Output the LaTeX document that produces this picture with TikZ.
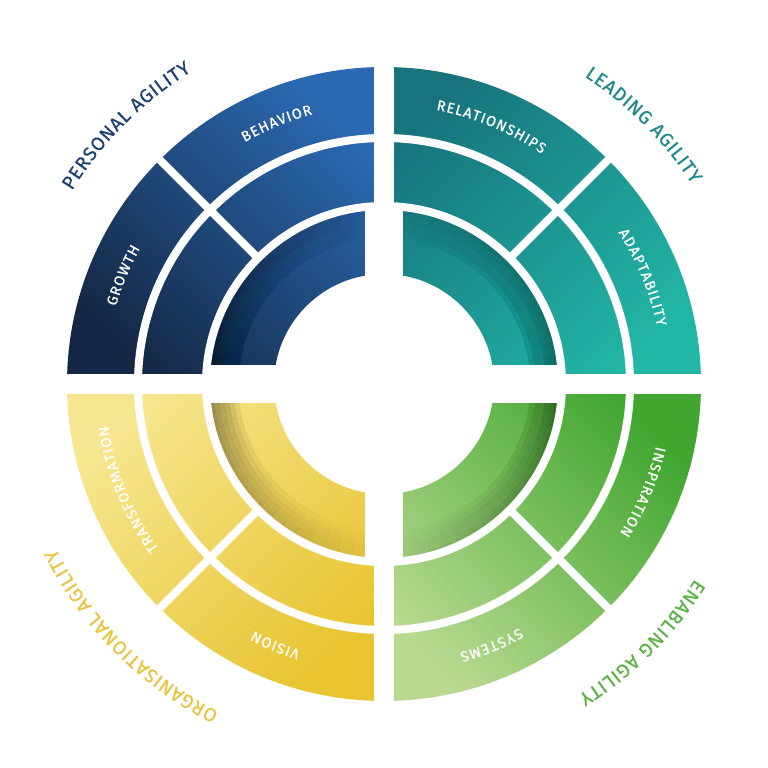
\documentclass[tikz,border=0pt]{standalone}
\usepackage{fontspec}
\usetikzlibrary{decorations.text,fadings}
\newfontfamily\agilityfont{Fira Sans}[FakeBold=0.6]
\definecolor{navydark}{HTML}{142845}
\definecolor{navylight}{HTML}{2B6AB3}
\definecolor{tealdark}{HTML}{17747E}
\definecolor{teallight}{HTML}{22B6A6}
\definecolor{greendark}{HTML}{40A630}
\definecolor{greenlight}{HTML}{B8D98F}
\definecolor{yellowlight}{HTML}{F6E68F}
\definecolor{yellowdark}{HTML}{E8C430}
\definecolor{personaltxt}{HTML}{1D4170}
\definecolor{leadingtxt}{HTML}{1E8A8C}
\definecolor{enablingtxt}{HTML}{5DB347}
\definecolor{orgtxt}{HTML}{E9C53F}
\newcommand\titlefmt{\agilityfont\fontsize{19}{21}\selectfont\kern0.8pt}
\newcommand\labelfmt{\agilityfont\fontsize{14.5}{16}\selectfont\kern1.1pt}
\pgfdeclareradialshading{ringshade}{\pgfpointorigin}{color(0bp)=(transparent!100); color(20.5bp)=(transparent!100); color(24.7bp)=(transparent!35); color(50bp)=(transparent!35)}
\pgfdeclarefading{ringedge}{\pgfuseshading{ringshade}}

\begin{document}
\begin{tikzpicture}[x=1pt,y=1pt,
    gap/.style={white,line width=#1},
    segtext/.style={decorate,decoration={text along path,text align=center,text color=white,text={|\labelfmt|#1}}},
    ringtitle/.style 2 args={decorate,decoration={text along path,text align=center,text color=#1,text={|\titlefmt|#2}}}]
    \useasboundingbox[fill=white] (-384,-384) rectangle (384,384);
    \shade[top color=tealdark,bottom color=teallight,shading angle=45] (0:317) arc[start angle=0,end angle=90,radius=317] -- (90:110) arc[start angle=90,end angle=0,radius=110] -- cycle;
    \shade[top color=navylight,bottom color=navydark,shading angle=-45] (90:317) arc[start angle=90,end angle=180,radius=317] -- (180:110) arc[start angle=180,end angle=90,radius=110] -- cycle;
    \shade[top color=yellowlight,bottom color=yellowdark,shading angle=45] (180:317) arc[start angle=180,end angle=270,radius=317] -- (270:110) arc[start angle=270,end angle=180,radius=110] -- cycle;
    \shade[top color=greendark,bottom color=greenlight,shading angle=-45] (270:317) arc[start angle=270,end angle=360,radius=317] -- (360:110) arc[start angle=360,end angle=270,radius=110] -- cycle;
    \foreach \a/\s in {0/1,0/-1,180/-1,180/1}
      \foreach \j in {5,10,...,90}{
        \begin{scope}
          \clip (0,0) -- (\a:180) arc[start angle=\a,end angle=\a+\s*\j,radius=180] -- cycle;
          \fill[black,opacity=0.036,path fading=ringedge] (0,0) circle[radius=174];
        \end{scope}
      }
    \draw[gap=8] (0,0) circle[radius=178];
    \draw[gap=8] (0,0) circle[radius=246];
    \draw[gap=20] (-330,0) -- (330,0);
    \draw[gap=20] (0,-330) -- (0,330);
    \draw[gap=38] (-178,0) -- (178,0);
    \draw[gap=38] (0,-178) -- (0,178);
    \foreach \a in {45,135,225,315}
      \draw[gap=8] (\a:176) -- (\a:330);
    \path[segtext=RELATIONSHIPS] (90:279) arc[start angle=90,end angle=45,radius=279];
    \path[segtext=ADAPTABILITY] (45:279) arc[start angle=45,end angle=0,radius=279];
    \path[segtext=INSPIRATION] (0:279) arc[start angle=0,end angle=-45,radius=279];
    \path[segtext=SYSTEMS] (-45:279) arc[start angle=-45,end angle=-90,radius=279];
    \path[segtext=VISION] (270:279) arc[start angle=270,end angle=225,radius=279];
    \path[segtext=TRANSFORMATION] (225:279) arc[start angle=225,end angle=180,radius=279];
    \path[segtext=GROWTH] (180:279) arc[start angle=180,end angle=135,radius=279];
    \path[segtext=BEHAVIOR] (135:279) arc[start angle=135,end angle=90,radius=279];
    \path[ringtitle={personaltxt}{PERSONAL AGILITY}] (175:367) arc[start angle=175,end angle=95,radius=367];
    \path[ringtitle={leadingtxt}{LEADING AGILITY}] (85:367) arc[start angle=85,end angle=5,radius=367];
    \path[ringtitle={enablingtxt}{ENABLING AGILITY}] (-5:367) arc[start angle=-5,end angle=-85,radius=367];
    \path[ringtitle={orgtxt}{ORGANISATIONAL AGILITY}] (265:367) arc[start angle=265,end angle=185,radius=367];
\end{tikzpicture}
\end{document}
